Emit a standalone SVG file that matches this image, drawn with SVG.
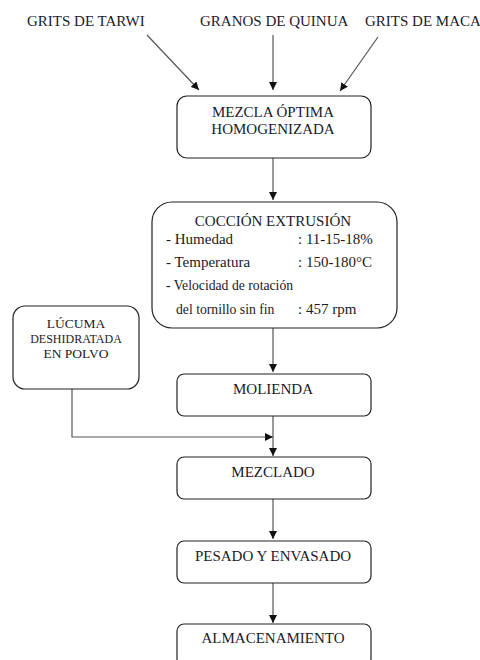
<svg xmlns="http://www.w3.org/2000/svg" width="480" height="660" viewBox="0 0 480 660">
<style>
text{font-family:'Liberation Serif','DejaVu Serif',serif;fill:#1a1a2a}
.lbl{font-size:15px}
.c{text-anchor:middle}
.box{fill:#fff;stroke:#222;stroke-width:1.2}
.ln{fill:none;stroke:#555;stroke-width:1.2}
.sm{font-size:13.7px}
.lu{font-size:12px}
.lub{font-size:13.5px}
</style>
<defs>
<marker id="ah" viewBox="0 0 10 10" refX="10" refY="5" markerWidth="8" markerHeight="8" markerUnits="userSpaceOnUse" orient="auto">
<path d="M0,0 L10,5 L0,10 Z" fill="#111"/>
</marker>
</defs>
<rect width="480" height="660" fill="#fff"/>
<g id="inputs">
<text class="lbl" x="27" y="26">GRITS DE TARWI</text>
<text class="lbl" x="200" y="26">GRANOS DE QUINUA</text>
<text class="lbl" x="365" y="26">GRITS DE MACA</text>
</g>
<g id="connectors">
<line class="ln" x1="147" y1="35" x2="199" y2="90" marker-end="url(#ah)"/>
<line class="ln" x1="273" y1="35" x2="273" y2="90" marker-end="url(#ah)"/>
<line class="ln" x1="378" y1="37" x2="340" y2="91" marker-end="url(#ah)"/>
<line class="ln" x1="273" y1="158" x2="273" y2="200" marker-end="url(#ah)"/>
<line class="ln" x1="273" y1="328" x2="273" y2="372" marker-end="url(#ah)"/>
<polyline class="ln" points="72,389 72,437 273,437" marker-end="url(#ah)"/>
<line class="ln" x1="273" y1="416" x2="273" y2="456" marker-end="url(#ah)"/>
<line class="ln" x1="273" y1="499" x2="273" y2="539" marker-end="url(#ah)"/>
<line class="ln" x1="273" y1="583" x2="273" y2="623" marker-end="url(#ah)"/>
</g>
<g id="mezcla">
<rect class="box" x="177" y="96" width="194" height="62" rx="10"/>
<text class="lbl c" x="273" y="117">MEZCLA ÓPTIMA</text>
<text class="lbl c" x="273" y="134">HOMOGENIZADA</text>
</g>
<g id="coccion">
<rect class="box" x="152" y="202" width="245" height="126" rx="20"/>
<text class="lbl c" x="273" y="226">COCCIÓN EXTRUSIÓN</text>
<text class="lbl" x="166" y="244">- Humedad</text>
<text class="lbl" x="298" y="244">: 11-15-18%</text>
<text class="lbl" x="166" y="267">- Temperatura</text>
<text class="lbl" x="298" y="267">: 150-180°C</text>
<text class="sm" x="166" y="290">- Velocidad de rotación</text>
<text class="sm" x="176" y="314">del tornillo sin fin</text>
<text class="lbl" x="298" y="314">: 457 rpm</text>
</g>
<g id="lucuma">
<rect class="box" x="13" y="306" width="126" height="83" rx="12"/>
<text class="lub c" x="76" y="328">LÚCUMA</text>
<text class="lu c" x="76" y="343">DESHIDRATADA</text>
<text class="lub c" x="76" y="358">EN POLVO</text>
</g>
<g id="molienda">
<rect class="box" x="177" y="374" width="194" height="42" rx="7"/>
<text class="lbl c" x="273" y="394">MOLIENDA</text>
</g>
<g id="mezclado">
<rect class="box" x="177" y="457" width="194" height="42" rx="7"/>
<text class="lbl c" x="273" y="477">MEZCLADO</text>
</g>
<g id="pesado">
<rect class="box" x="177" y="541" width="194" height="42" rx="7"/>
<text class="lbl c" x="273" y="561">PESADO Y ENVASADO</text>
</g>
<g id="almacenamiento">
<rect class="box" x="177" y="624" width="194" height="42" rx="7"/>
<text class="lbl c" x="273" y="643">ALMACENAMIENTO</text>
</g>
</svg>
